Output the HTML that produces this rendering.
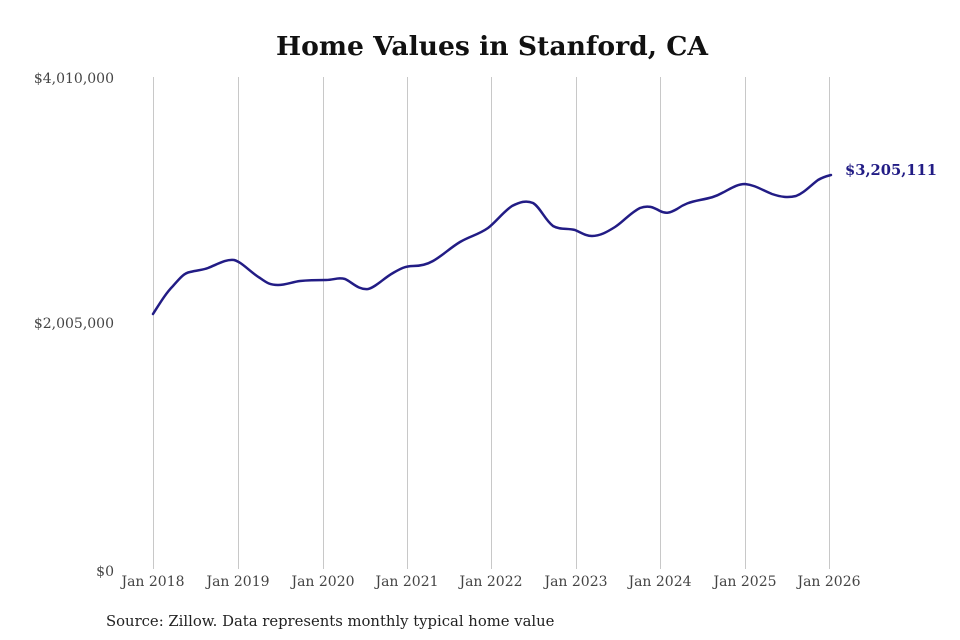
<!DOCTYPE html>
<html><head><meta charset="utf-8"><style>
body{margin:0;background:#fff;}
svg{display:block;font-family:"DejaVu Serif","Liberation Serif",serif;}
</style></head><body>
<svg width="960" height="640" viewBox="0 0 960 640" xmlns="http://www.w3.org/2000/svg">
<rect width="960" height="640" fill="#fff"/>
<text x="492" y="55" text-anchor="middle" font-size="26.6" font-weight="bold" fill="#111">Home Values in Stanford, CA</text>
<g stroke="#c8c8c8" stroke-width="1">
<line x1="153.5" y1="77" x2="153.5" y2="569"/>
<line x1="238.5" y1="77" x2="238.5" y2="569"/>
<line x1="323.5" y1="77" x2="323.5" y2="569"/>
<line x1="407.5" y1="77" x2="407.5" y2="569"/>
<line x1="491.5" y1="77" x2="491.5" y2="569"/>
<line x1="576.5" y1="77" x2="576.5" y2="569"/>
<line x1="660.5" y1="77" x2="660.5" y2="569"/>
<line x1="745.5" y1="77" x2="745.5" y2="569"/>
<line x1="829.5" y1="77" x2="829.5" y2="569"/>
</g>
<g font-size="14" fill="#444" text-anchor="end">
<text x="114" y="83">$4,010,000</text>
<text x="114" y="328">$2,005,000</text>
<text x="114" y="576">$0</text>
</g>
<g font-size="14" fill="#444" text-anchor="middle">
<text x="153" y="586">Jan 2018</text>
<text x="238" y="586">Jan 2019</text>
<text x="323" y="586">Jan 2020</text>
<text x="407" y="586">Jan 2021</text>
<text x="491" y="586">Jan 2022</text>
<text x="576" y="586">Jan 2023</text>
<text x="660" y="586">Jan 2024</text>
<text x="745" y="586">Jan 2025</text>
<text x="829" y="586">Jan 2026</text>
</g>
<path fill="none" stroke="#221c85" stroke-width="2.5" stroke-linejoin="round" stroke-linecap="round"
d="M153,314 C160,303 166,293 173,286 C180,278 184,273 190,272 C198,270 203,270 208,268 C218,264 226,259 234,260 C242,262 250,272 260,278 C267,283 270,285 278,285 C286,285 292,282 300,281 C310,280 316,280 326,280 C334,280 338,277 345,279 C352,282 358,290 368,289 C376,287 384,278 393,273 C400,269 405,266 413,266 C420,266 426,265 433,261 C442,256 450,248 460,242 C470,236 478,235 488,228 C496,222 503,212 512,206 C520,202 526,200 533,203 C540,207 545,220 553,226 C560,230 567,228 575,230 C582,233 586,236 592,236 C600,236 607,232 615,227 C623,222 630,213 640,208 C648,205 653,207 660,211 C666,214 670,213 677,209 C684,204 690,202 700,200 C710,198 715,197 722,193 C730,189 737,184 745,184 C755,185 762,190 772,194 C781,197 788,198 796,196 C804,193 810,186 818,180 C823,177 827,176 831,175"/>
<text x="845" y="175" font-size="14.7" font-weight="bold" fill="#221c85">$3,205,111</text>
<text x="106" y="626" font-size="14.8" fill="#222">Source: Zillow. Data represents monthly typical home value</text>
</svg>
</body></html>
